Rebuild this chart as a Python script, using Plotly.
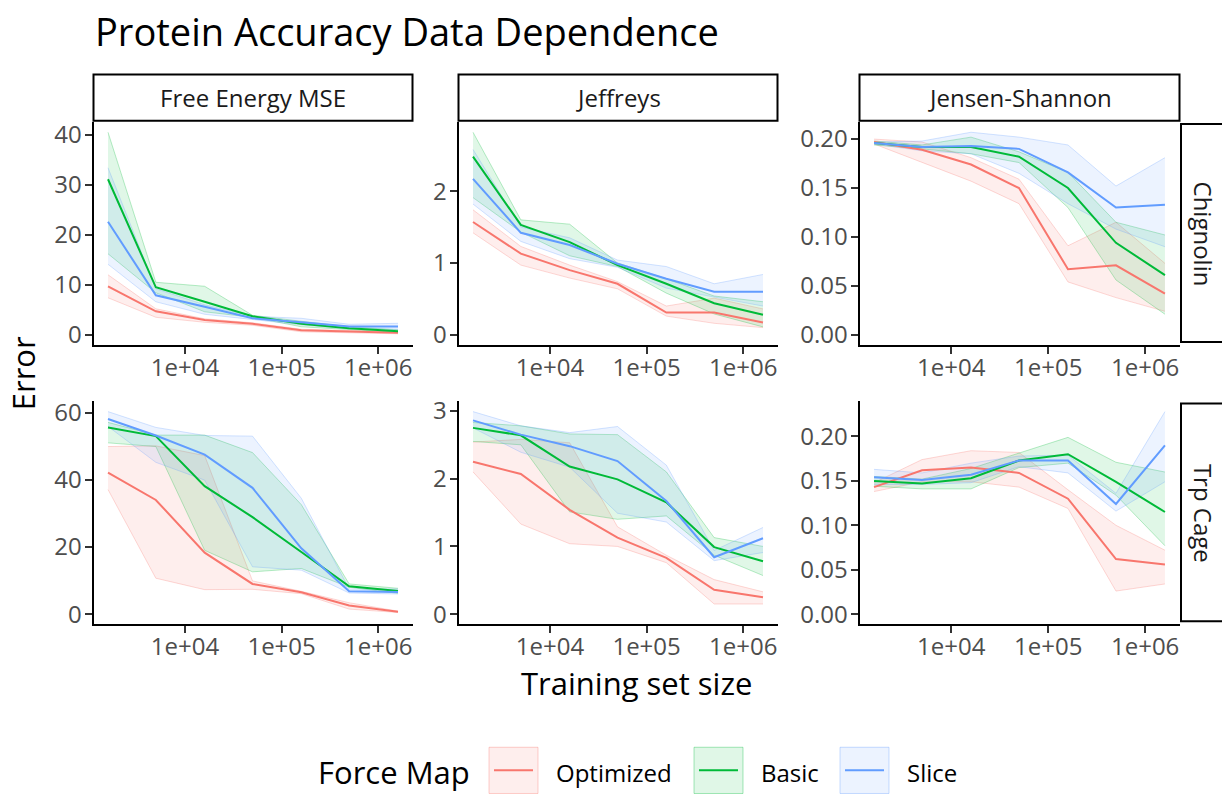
import math
import plotly.graph_objects as go

# ---------------------------------------------------------------- data
TRAIN_SIZE = [1600, 5000, 16000, 50000, 160000, 500000, 1600000]
FORCE_MAPS = ["Optimized", "Basic", "Slice"]
METRICS = ["Free Energy MSE", "Jeffreys", "Jensen-Shannon"]
PROTEINS = ["Chignolin", "Trp Cage"]
X_TICKS = [1e4, 1e5, 1e6]
X_TICK_TEXT = ["1e+04", "1e+05", "1e+06"]

# Chignolin / Free Energy MSE
CHIG_FE_OPT = [9.7, 4.7, 2.95, 2.2, 0.9, 0.65, 0.4]
CHIG_FE_OPT_LO = [7.4, 3.5, 2.5, 1.9, 0.6, 0.4, 0.2]
CHIG_FE_OPT_HI = [12.0, 5.2, 3.2, 2.4, 1.1, 0.9, 0.6]
CHIG_FE_BAS = [31.1, 9.5, 6.6, 3.7, 2.2, 1.3, 0.7]
CHIG_FE_BAS_LO = [16.2, 8.4, 4.6, 3.5, 1.6, 1.0, 0.5]
CHIG_FE_BAS_HI = [40.5, 10.5, 9.7, 3.9, 2.7, 1.6, 1.0]
CHIG_FE_SLI = [22.6, 7.9, 5.6, 3.3, 2.5, 1.65, 1.65]
CHIG_FE_SLI_LO = [14.1, 6.6, 4.1, 3.0, 2.0, 1.2, 1.1]
CHIG_FE_SLI_HI = [33.4, 9.2, 6.0, 3.7, 3.3, 2.1, 2.3]

# Chignolin / Jeffreys
CHIG_JEF_OPT = [1.57, 1.13, 0.90, 0.71, 0.31, 0.31, 0.17]
CHIG_JEF_OPT_LO = [1.42, 0.97, 0.79, 0.64, 0.26, 0.16, 0.10]
CHIG_JEF_OPT_HI = [1.74, 1.23, 0.97, 0.74, 0.40, 0.51, 0.36]
CHIG_JEF_BAS = [2.48, 1.53, 1.29, 0.97, 0.71, 0.44, 0.28]
CHIG_JEF_BAS_LO = [1.91, 1.43, 1.10, 0.95, 0.58, 0.29, 0.11]
CHIG_JEF_BAS_HI = [2.82, 1.60, 1.54, 1.00, 0.78, 0.54, 0.46]
CHIG_JEF_SLI = [2.17, 1.42, 1.25, 0.99, 0.78, 0.60, 0.60]
CHIG_JEF_SLI_LO = [1.82, 1.30, 1.06, 0.94, 0.65, 0.53, 0.40]
CHIG_JEF_SLI_HI = [2.58, 1.50, 1.35, 1.04, 0.95, 0.71, 0.84]

# Chignolin / Jensen-Shannon
CHIG_JS_OPT = [0.197, 0.189, 0.174, 0.150, 0.067, 0.071, 0.042]
CHIG_JS_OPT_LO = [0.195, 0.176, 0.157, 0.134, 0.054, 0.038, 0.024]
CHIG_JS_OPT_HI = [0.200, 0.197, 0.181, 0.159, 0.091, 0.115, 0.073]
CHIG_JS_BAS = [0.196, 0.192, 0.192, 0.182, 0.150, 0.094, 0.061]
CHIG_JS_BAS_LO = [0.194, 0.190, 0.185, 0.176, 0.130, 0.056, 0.021]
CHIG_JS_BAS_HI = [0.198, 0.194, 0.202, 0.187, 0.166, 0.115, 0.102]
CHIG_JS_SLI = [0.196, 0.192, 0.193, 0.190, 0.166, 0.130, 0.133]
CHIG_JS_SLI_LO = [0.195, 0.188, 0.185, 0.165, 0.134, 0.108, 0.090]
CHIG_JS_SLI_HI = [0.197, 0.198, 0.207, 0.202, 0.194, 0.152, 0.181]

# Trp Cage / Free Energy MSE
TRP_FE_OPT = [42.1, 34.0, 18.3, 9.0, 6.5, 2.6, 0.7]
TRP_FE_OPT_LO = [37.1, 10.7, 7.3, 7.4, 6.1, 1.5, 0.5]
TRP_FE_OPT_HI = [49.9, 50.1, 47.2, 9.9, 6.8, 3.4, 0.9]
TRP_FE_BAS = [55.6, 53.0, 38.1, 28.9, 18.5, 8.3, 6.9]
TRP_FE_BAS_LO = [51.0, 49.9, 19.0, 12.6, 13.6, 8.0, 6.2]
TRP_FE_BAS_HI = [57.1, 53.3, 53.3, 48.1, 32.6, 9.0, 7.7]
TRP_FE_SLI = [58.1, 53.2, 47.5, 37.6, 19.6, 6.8, 6.6]
TRP_FE_SLI_LO = [55.9, 45.2, 39.9, 14.1, 13.1, 6.3, 6.0]
TRP_FE_SLI_HI = [60.3, 55.6, 53.2, 53.0, 34.5, 7.5, 7.5]

# Trp Cage / Jeffreys
TRP_JEF_OPT = [2.25, 2.07, 1.54, 1.13, 0.83, 0.36, 0.25]
TRP_JEF_OPT_LO = [2.10, 1.33, 1.04, 1.00, 0.76, 0.15, 0.15]
TRP_JEF_OPT_HI = [2.54, 2.58, 2.53, 1.29, 0.87, 0.51, 0.33]
TRP_JEF_BAS = [2.75, 2.64, 2.18, 1.99, 1.65, 0.99, 0.78]
TRP_JEF_BAS_LO = [2.55, 2.50, 1.51, 1.40, 1.45, 0.87, 0.57]
TRP_JEF_BAS_HI = [2.83, 2.78, 2.66, 2.65, 2.10, 1.13, 1.00]
TRP_JEF_SLI = [2.86, 2.65, 2.48, 2.26, 1.67, 0.84, 1.12]
TRP_JEF_SLI_LO = [2.75, 2.39, 2.17, 1.49, 1.36, 0.79, 0.91]
TRP_JEF_SLI_HI = [2.99, 2.78, 2.68, 2.77, 2.20, 0.94, 1.28]

# Trp Cage / Jensen-Shannon
TRP_JS_OPT = [0.143, 0.162, 0.165, 0.159, 0.130, 0.062, 0.056]
TRP_JS_OPT_LO = [0.138, 0.149, 0.149, 0.143, 0.119, 0.026, 0.034]
TRP_JS_OPT_HI = [0.148, 0.174, 0.184, 0.182, 0.140, 0.100, 0.072]
TRP_JS_BAS = [0.150, 0.147, 0.153, 0.173, 0.180, 0.149, 0.115]
TRP_JS_BAS_LO = [0.144, 0.141, 0.141, 0.165, 0.170, 0.134, 0.077]
TRP_JS_BAS_HI = [0.155, 0.152, 0.164, 0.181, 0.199, 0.171, 0.160]
TRP_JS_SLI = [0.154, 0.151, 0.157, 0.173, 0.173, 0.124, 0.190]
TRP_JS_SLI_LO = [0.146, 0.146, 0.148, 0.166, 0.159, 0.116, 0.149]
TRP_JS_SLI_HI = [0.163, 0.159, 0.170, 0.178, 0.179, 0.136, 0.228]

PANELS = {
    ("Chignolin", "Free Energy MSE"): {
        "Optimized": (CHIG_FE_OPT, CHIG_FE_OPT_LO, CHIG_FE_OPT_HI),
        "Basic": (CHIG_FE_BAS, CHIG_FE_BAS_LO, CHIG_FE_BAS_HI),
        "Slice": (CHIG_FE_SLI, CHIG_FE_SLI_LO, CHIG_FE_SLI_HI),
    },
    ("Chignolin", "Jeffreys"): {
        "Optimized": (CHIG_JEF_OPT, CHIG_JEF_OPT_LO, CHIG_JEF_OPT_HI),
        "Basic": (CHIG_JEF_BAS, CHIG_JEF_BAS_LO, CHIG_JEF_BAS_HI),
        "Slice": (CHIG_JEF_SLI, CHIG_JEF_SLI_LO, CHIG_JEF_SLI_HI),
    },
    ("Chignolin", "Jensen-Shannon"): {
        "Optimized": (CHIG_JS_OPT, CHIG_JS_OPT_LO, CHIG_JS_OPT_HI),
        "Basic": (CHIG_JS_BAS, CHIG_JS_BAS_LO, CHIG_JS_BAS_HI),
        "Slice": (CHIG_JS_SLI, CHIG_JS_SLI_LO, CHIG_JS_SLI_HI),
    },
    ("Trp Cage", "Free Energy MSE"): {
        "Optimized": (TRP_FE_OPT, TRP_FE_OPT_LO, TRP_FE_OPT_HI),
        "Basic": (TRP_FE_BAS, TRP_FE_BAS_LO, TRP_FE_BAS_HI),
        "Slice": (TRP_FE_SLI, TRP_FE_SLI_LO, TRP_FE_SLI_HI),
    },
    ("Trp Cage", "Jeffreys"): {
        "Optimized": (TRP_JEF_OPT, TRP_JEF_OPT_LO, TRP_JEF_OPT_HI),
        "Basic": (TRP_JEF_BAS, TRP_JEF_BAS_LO, TRP_JEF_BAS_HI),
        "Slice": (TRP_JEF_SLI, TRP_JEF_SLI_LO, TRP_JEF_SLI_HI),
    },
    ("Trp Cage", "Jensen-Shannon"): {
        "Optimized": (TRP_JS_OPT, TRP_JS_OPT_LO, TRP_JS_OPT_HI),
        "Basic": (TRP_JS_BAS, TRP_JS_BAS_LO, TRP_JS_BAS_HI),
        "Slice": (TRP_JS_SLI, TRP_JS_SLI_LO, TRP_JS_SLI_HI),
    },
}

# ---------------------------------------------------------------- style
W, H = 1222, 798
FONT = "Open Sans"
COLORS = {"Optimized": (248, 118, 109), "Basic": (0, 186, 56), "Slice": (97, 156, 255)}
Y_DTICK = {"Free Energy MSE": None, "Jeffreys": 1, "Jensen-Shannon": 0.05}
Y_DTICK_ROW = {("Chignolin", "Free Energy MSE"): 10, ("Trp Cage", "Free Energy MSE"): 20}

COL_PX = [(93.5, 412.5), (458.5, 777.5), (859.5, 1179.5)]
ROW_PX = [(116.0, 342.5), (400.0, 626.5)]
STRIP_TOP = (67.5, 114.5)
STRIP_RIGHT_X0 = 1181.0
TICK_SIZE = 24
STRIP_SIZE = 24
TITLE_SIZE = 38
AXIS_TITLE_SIZE = 31


def rgba(c, a):
    return f"rgba({c[0]},{c[1]},{c[2]},{a})"


def px_x(x):
    return x / W


def px_y(y):
    return 1 - y / H


fig = go.Figure()

lx = [math.log10(v) for v in TRAIN_SIZE]
lspan = max(lx) - min(lx)
x_range = [min(lx) - 0.05 * lspan, max(lx) + 0.05 * lspan]

shapes = []
annotations = []

for r, protein in enumerate(PROTEINS):
    for c, metric in enumerate(METRICS):
        k = r * 3 + c + 1
        xa = "x" if k == 1 else f"x{k}"
        ya = "y" if k == 1 else f"y{k}"
        series = PANELS[(protein, metric)]

        # ribbons first
        for fm in FORCE_MAPS:
            mean, lo, hi = series[fm]
            col = COLORS[fm]
            fig.add_trace(go.Scatter(
                x=TRAIN_SIZE + TRAIN_SIZE[::-1], y=hi + lo[::-1],
                fill="toself", fillcolor=rgba(col, 0.12),
                line=dict(width=0), mode="lines", hoverinfo="skip",
                showlegend=False, xaxis=xa, yaxis=ya))
            for edge in (lo, hi):
                fig.add_trace(go.Scatter(
                    x=TRAIN_SIZE, y=edge, mode="lines",
                    line=dict(color=rgba(col, 0.35), width=0.8),
                    hoverinfo="skip", showlegend=False, xaxis=xa, yaxis=ya))
        # mean lines on top
        for fm in FORCE_MAPS:
            mean, lo, hi = series[fm]
            fig.add_trace(go.Scatter(
                x=TRAIN_SIZE, y=mean, mode="lines", name=fm,
                line=dict(color=rgba(COLORS[fm], 1), width=2),
                showlegend=False, xaxis=xa, yaxis=ya))

        ymax = max(max(series[fm][2]) for fm in FORCE_MAPS)
        y_range = [-0.05 * ymax, 1.05 * ymax]
        dtick = Y_DTICK_ROW.get((protein, metric), Y_DTICK[metric])

        x0, x1 = COL_PX[c]
        y0, y1 = ROW_PX[r]
        common = dict(
            showline=True, linecolor="black", linewidth=2,
            ticks="outside", ticklen=7, tickwidth=2, tickcolor="#333333",
            showgrid=False, zeroline=False,
            tickfont=dict(family=FONT, size=TICK_SIZE, color="#4D4D4D"),
        )
        fig.update_layout(**{
            ("xaxis" if k == 1 else f"xaxis{k}"): dict(
                domain=[px_x(x0), px_x(x1)], anchor=ya, type="log",
                range=x_range, tickvals=X_TICKS, ticktext=X_TICK_TEXT,
                ticklabelstandoff=-7, **common),
            ("yaxis" if k == 1 else f"yaxis{k}"): dict(
                domain=[px_y(y1), px_y(y0)], anchor=xa, range=y_range,
                tick0=0, dtick=dtick,
                tickformat=".2f" if metric == "Jensen-Shannon" else None,
                ticklabelstandoff=-2, **common),
        })

# column strips
for c, metric in enumerate(METRICS):
    x0, x1 = COL_PX[c]
    shapes.append(dict(type="rect", xref="paper", yref="paper",
                       x0=px_x(x0), x1=px_x(x1), y0=px_y(STRIP_TOP[1]), y1=px_y(STRIP_TOP[0]),
                       line=dict(color="black", width=2), fillcolor="white"))
    annotations.append(dict(text=metric, xref="paper", yref="paper",
                            x=px_x((x0 + x1) / 2), y=px_y(sum(STRIP_TOP) / 2),
                            xanchor="center", yanchor="middle", showarrow=False,
                            font=dict(family=FONT, size=STRIP_SIZE, color="#1A1A1A")))

# row strips
for r, protein in enumerate(PROTEINS):
    y0, y1 = ROW_PX[r]
    shapes.append(dict(type="rect", xref="paper", yref="paper",
                       x0=px_x(STRIP_RIGHT_X0), x1=px_x(W + 20), y0=px_y(y1 - 3), y1=px_y(y0 + 2),
                       line=dict(color="black", width=2), fillcolor="white"))
    annotations.append(dict(text=protein, xref="paper", yref="paper",
                            x=px_x(1203), y=px_y((y0 + y1) / 2), textangle=90,
                            xanchor="center", yanchor="middle", showarrow=False,
                            font=dict(family=FONT, size=STRIP_SIZE, color="#1A1A1A")))

# titles
annotations.append(dict(text="Protein Accuracy Data Dependence", xref="paper", yref="paper",
                        x=px_x(93), y=px_y(23), xanchor="left", yanchor="middle",
                        showarrow=False, font=dict(family=FONT, size=TITLE_SIZE, color="black")))
annotations.append(dict(text="Error", xref="paper", yref="paper",
                        x=px_x(23), y=px_y((ROW_PX[0][0] + ROW_PX[1][1]) / 2), textangle=-90,
                        xanchor="center", yanchor="middle", showarrow=False,
                        font=dict(family=FONT, size=AXIS_TITLE_SIZE, color="black")))
annotations.append(dict(text="Training set size", xref="paper", yref="paper",
                        x=px_x((COL_PX[0][0] + COL_PX[2][1]) / 2), y=px_y(686),
                        xanchor="center", yanchor="middle", showarrow=False,
                        font=dict(family=FONT, size=AXIS_TITLE_SIZE, color="black")))

# legend
LEG_Y = 775
LEG_KEY_X = [489, 694, 840]
LEG_KEY_W, LEG_KEY_H = 49, 47
annotations.append(dict(text="Force Map", xref="paper", yref="paper",
                        x=px_x(316), y=px_y(LEG_Y + 2), xanchor="left", yanchor="middle",
                        showarrow=False, font=dict(family=FONT, size=AXIS_TITLE_SIZE, color="black")))
for fm, kx in zip(FORCE_MAPS, LEG_KEY_X):
    col = COLORS[fm]
    shapes.append(dict(type="rect", xref="paper", yref="paper",
                       x0=px_x(kx), x1=px_x(kx + LEG_KEY_W),
                       y0=px_y(LEG_Y + LEG_KEY_H / 2), y1=px_y(LEG_Y - LEG_KEY_H / 2),
                       line=dict(color=rgba(col, 0.35), width=1), fillcolor=rgba(col, 0.12)))
    shapes.append(dict(type="line", xref="paper", yref="paper",
                       x0=px_x(kx + 5), x1=px_x(kx + LEG_KEY_W - 5),
                       y0=px_y(LEG_Y), y1=px_y(LEG_Y),
                       line=dict(color=rgba(col, 1), width=2)))
    annotations.append(dict(text=fm, xref="paper", yref="paper",
                            x=px_x(kx + 65), y=px_y(LEG_Y + 2), xanchor="left", yanchor="middle",
                            showarrow=False, font=dict(family=FONT, size=STRIP_SIZE, color="black")))

fig.update_layout(
    width=W, height=H, margin=dict(l=0, r=0, t=0, b=0),
    paper_bgcolor="white", plot_bgcolor="white",
    font=dict(family=FONT), showlegend=False,
    shapes=shapes, annotations=annotations,
)

fig.write_html("out.html")
